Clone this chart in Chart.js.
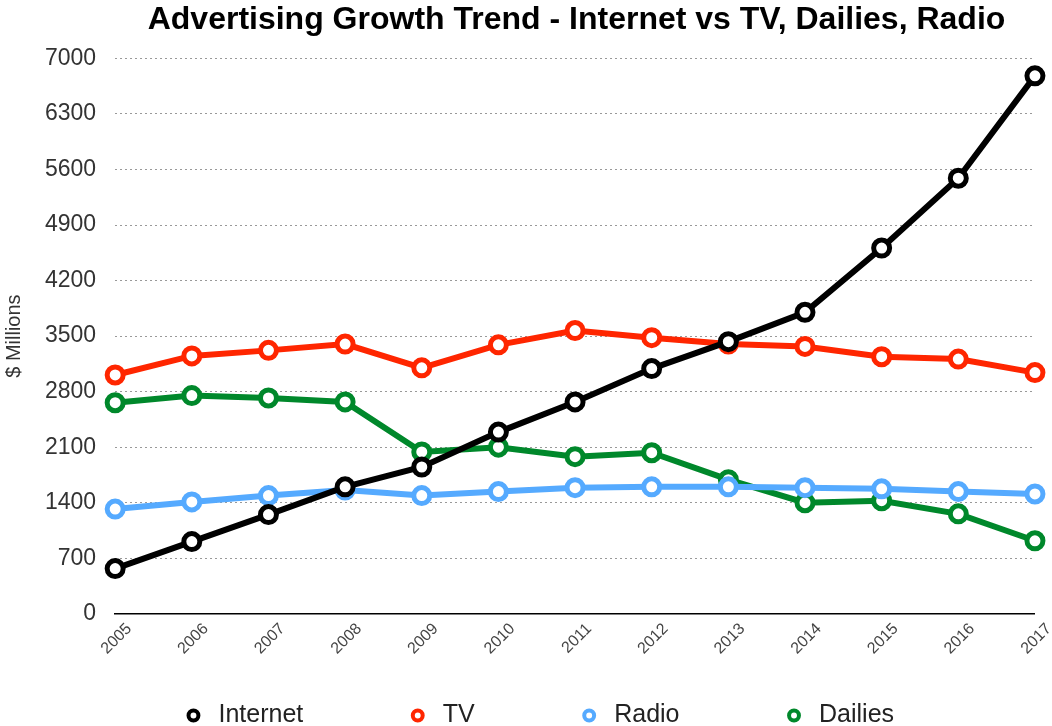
<!DOCTYPE html>
<html>
<head>
<meta charset="utf-8">
<script src="https://cdn.jsdelivr.net/npm/chart.js@4/dist/chart.umd.min.js"></script>
<style>
  html, body { margin: 0; padding: 0; background: #fff; }
  #wrap { width: 1052px; height: 726px; }
</style>
</head>
<body>
<div id="wrap"><canvas id="chart" width="1052" height="726"></canvas></div>
<script>
const years = ["2005", "2006", "2007", "2008", "2009", "2010", "2011", "2012", "2013", "2014", "2015", "2016", "2017"];
const internet = [570, 910, 1250, 1600, 1850, 2290, 2670, 3090, 3430, 3800, 4610, 5490, 6780];
const tv = [3010, 3250, 3320, 3400, 3100, 3390, 3570, 3480, 3400, 3370, 3240, 3210, 3040];
const radio = [1320, 1410, 1490, 1560, 1490, 1540, 1590, 1600, 1600, 1590, 1575, 1540, 1510];
const dailies = [2660, 2750, 2720, 2670, 2040, 2100, 1980, 2030, 1690, 1400, 1425, 1260, 920];

const fontFamily = "'Liberation Sans', Arial, Helvetica, sans-serif";
const legendGap = "\u2003\u2003\u2003";

function line(label, data, color) {
  return {
    label,
    data,
    borderColor: color,
    backgroundColor: color,
    borderWidth: 6,
    pointRadius: 8,
    pointHoverRadius: 8,
    pointBorderWidth: 5,
    pointBackgroundColor: "#ffffff",
    pointBorderColor: color,
    pointStyle: "circle",
    tension: 0
  };
}

// the original centres title and legend a little to the right of the canvas middle
const nudge = {
  id: "nudge",
  afterLayout(chart) {
    chart.legend.left += 15;
    chart.legend.right += 15;
    chart.legend.top += 12;
    chart.legend.bottom += 12;
    chart.titleBlock.left += 54;
    chart.titleBlock.right += 54;
    chart.titleBlock.top += 1;
    chart.titleBlock.bottom += 1;
  }
};

new Chart(document.getElementById("chart"), {
  type: "line",
  data: {
    labels: years,
    datasets: [
      line("Internet", internet, "#000000"),
      line("TV", tv, "#ff2600"),
      line("Radio", radio, "#55aaff"),
      line("Dailies", dailies, "#00882b")
    ]
  },
  plugins: [nudge],
  options: {
    responsive: false,
    animation: false,
    layout: { padding: { left: 0, right: 7, top: 0, bottom: 0 } },
    plugins: {
      title: {
        display: true,
        text: "Advertising Growth Trend - Internet vs TV, Dailies, Radio",
        color: "#000",
        font: { family: fontFamily, size: 32, weight: "bold" },
        padding: { top: 0, bottom: 20 }
      },
      legend: {
        position: "bottom",
        labels: {
          usePointStyle: true,
          boxHeight: 7,
          boxWidth: 25,
          padding: 27,
          color: "#222",
          font: { family: fontFamily, size: 25 },
          generateLabels(chart) {
            const items = Chart.defaults.plugins.legend.labels.generateLabels(chart);
            items.forEach((it, i) => {
              it.lineWidth = 4;
              if (i < items.length - 1) it.text = it.text + legendGap;
            });
            return items;
          }
        }
      },
      tooltip: { enabled: false }
    },
    scales: {
      x: {
        grid: { display: false, drawTicks: false },
        border: { display: true, color: "#000", width: 1.5 },
        ticks: {
          minRotation: 45,
          maxRotation: 45,
          padding: 8,
          labelOffset: 14,
          color: "#444",
          font: { family: fontFamily, size: 16, lineHeight: 0.8 }
        }
      },
      y: {
        min: 0,
        max: 7000,
        title: {
          display: true,
          text: "$ Millions",
          color: "#333",
          font: { family: fontFamily, size: 20 },
          padding: { top: 2, bottom: 0 }
        },
        grid: {
          drawTicks: false,
          color: ctx => ctx.tick && ctx.tick.value === 0 ? "rgba(0,0,0,0)" : "#999",
          lineWidth: 1
        },
        border: { display: false, dash: [2, 3] },
        ticks: {
          stepSize: 700,
          padding: 19,
          color: "#333",
          font: { family: fontFamily, size: 23 },
          callback: v => String(v)
        }
      }
    }
  }
});
</script>
</body>
</html>
